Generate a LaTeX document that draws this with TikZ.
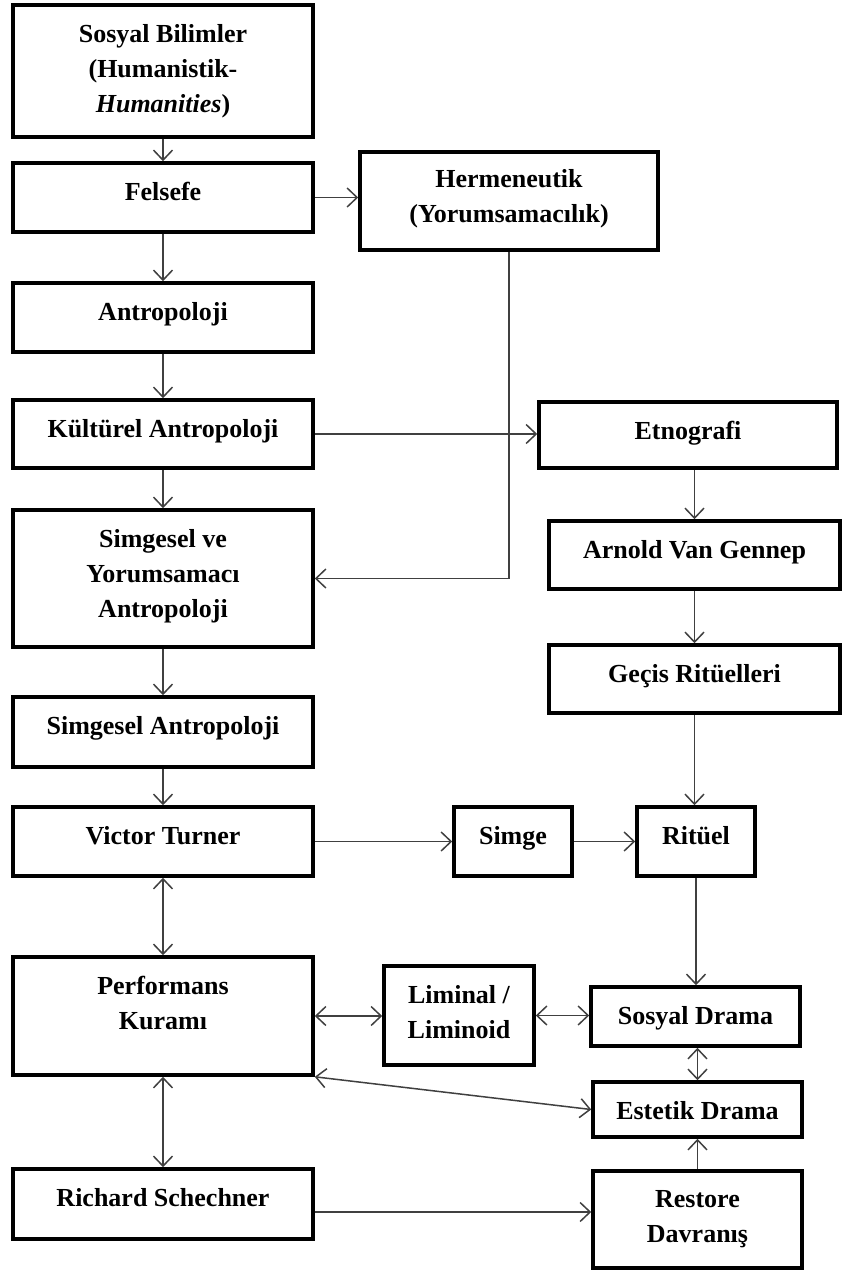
\documentclass[tikz,border=0pt]{standalone}
\usepackage{fontspec}
\setmainfont{Liberation Serif}
\usetikzlibrary{arrows.meta,calc}
\tikzset{
  box/.style={draw=black, line width=3.6pt, rectangle, inner sep=0pt, fill=white},
  txt/.style={font=\bfseries\fontsize{26}{35}\selectfont, align=center, inner sep=0pt, text=black},
  arr/.style={draw=black!75, line width=1.5pt, -{Straight Barb[length=10pt,width=19pt]}},
  darr/.style={draw=black!75, line width=1.5pt, {Straight Barb[length=10pt,width=19pt]}-{Straight Barb[length=10pt,width=19pt]}}
}
\newcommand\mybx[7]{%
  \node[box, minimum width={#4-#2}, minimum height={#5-#3}] (#1) at ({(#2+#4)/2},{(#3+#5)/2}) {};
  \node[txt, anchor=north] (#1t) at ({(#2+#4)/2},{#3+#7}) {#6};}
\begin{document}
\begin{tikzpicture}[x=1pt,y=-1pt]
\useasboundingbox[fill=white] (0,0) rectangle (842,1275);
% left column
\mybx{sos}{13}{5}{313}{137}{Sosyal Bilimler\\(Humanistik-\\\textit{Humanities})}{19}
\mybx{fel}{13}{163}{313}{232}{Felsefe}{19}
\mybx{ant}{13}{283}{313}{352}{Antropoloji}{19}
\mybx{kul}{13}{400}{313}{468}{Kültürel Antropoloji}{19}
\mybx{sym}{13}{510}{313}{647}{Simgesel ve\\Yorumsamacı\\Antropoloji}{19}
\mybx{sa}{13}{697}{313}{767}{Simgesel Antropoloji}{19}
\mybx{vt}{13}{807}{313}{876}{Victor Turner}{19}
\mybx{perf}{13}{957}{313}{1075}{Performans\\Kuramı}{19}
\mybx{rich}{13}{1169}{313}{1239}{Richard Schechner}{19}
% right side
\mybx{her}{360}{152}{658}{250}{Hermeneutik\\(Yorumsamacılık)}{17}
\mybx{etno}{539}{402}{837}{468}{Etnografi}{19}
\mybx{arn}{549}{521}{840}{589}{Arnold Van Gennep}{19}
\mybx{gec}{549}{645}{840}{713}{Geçis Ritüelleri}{19}
\mybx{simge}{454}{807}{572}{876}{Simge}{19}
\mybx{rit}{637}{807}{755}{876}{Ritüel}{19}
\mybx{lim}{384}{966}{534}{1065}{Liminal /\\Liminoid}{19}
\mybx{sd}{591}{987}{800}{1046}{Sosyal Drama}{19}
\mybx{est}{593}{1082}{802}{1137}{Estetik Drama}{19}
\mybx{rest}{593}{1171}{802}{1268}{Restore\\Davranış}{19}
% connectors
\draw[arr] (sos.south) -- (fel.north);
\draw[arr] (fel.east) -- (fel.east -| her.west);
\draw[arr] (fel.south) -- (ant.north);
\draw[arr] (ant.south) -- (kul.north);
\draw[arr] (kul.east) -- (kul.east -| etno.west);
\draw[arr] (her.south) |- (sym.east);
\draw[arr] (kul.south) -- (sym.north);
\draw[arr] (sym.south) -- (sa.north);
\draw[arr] (sa.south) -- (vt.north);
\draw[arr] (vt.east) -- (simge.west);
\draw[arr] (simge.east) -- (rit.west);
\draw[arr] (etno.south -| arn.north) -- (arn.north);
\draw[arr] (arn.south) -- (gec.north);
\draw[arr] (gec.south) -- (gec.south |- rit.north);
\draw[arr] (rit.south) -- (rit.south |- sd.north);
\draw[darr] (vt.south) -- (perf.north);
\draw[darr] (perf.east) -- (perf.east -| lim.west);
\draw[darr] (lim.east) -- (lim.east -| sd.west);
\draw[darr] (sd.south -| est.north) -- (est.north);
\draw[darr] (perf.south east) -- (est.west);
\draw[darr] (perf.south) -- (rich.north);
\coordinate (rr) at ($(rich.east)+(0,8)$);
\draw[arr] (rr) -- (rr -| rest.west);
\draw[arr] (rest.north) -- (est.south);
\end{tikzpicture}
\end{document}
